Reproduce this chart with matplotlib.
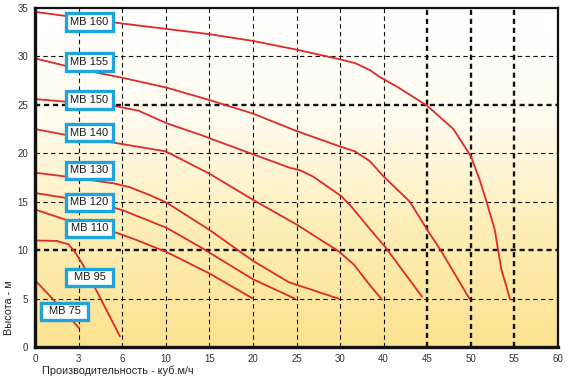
import numpy as np
import matplotlib
matplotlib.use("Agg")
import matplotlib.pyplot as plt
from matplotlib.patches import Rectangle

plt.rcParams['font.family'] = ['Liberation Sans', 'DejaVu Sans']

# подписи оси X (шкала неравномерная: каждая клетка — следующее значение)
x_ticks = [0, 3, 6, 10, 15, 20, 25, 30, 40, 45, 50, 55, 60]
y_ticks = [0, 5, 10, 15, 20, 25, 30, 35]

# характеристики насосов: расход (куб.м/ч) и высота (м)
mb160_q = [0, 6, 15, 20, 25, 30, 33.5, 36.8, 39, 41.5, 45, 48, 50, 51, 51.8, 52.75, 53.15, 53.5, 54.1, 54.5]
mb160_h = [34.6, 33.4, 32.3, 31.6, 30.7, 29.7, 29.3, 28.6, 27.9, 26.9, 24.9, 22.5, 19.7, 17.3, 15.0, 12.1, 9.9, 8.0, 6.2, 4.9]
mb155_q = [0, 3, 6, 10, 15, 20, 25, 30, 33.4, 36.8, 40, 43, 45, 46.6, 49.9]
mb155_h = [29.8, 28.7, 27.8, 26.8, 25.5, 24.1, 22.3, 20.7, 20.2, 19.2, 17.6, 15.0, 12.1, 9.9, 4.9]
mb150_q = [0, 5.4, 7.5, 10.1, 14, 20, 24.25, 25.4, 26.9, 30.2, 32.4, 36.8, 40.2, 44.4]
mb150_h = [25.6, 24.9, 24.4, 23.1, 21.9, 19.9, 18.5, 18.25, 17.6, 15.6, 14.6, 12.2, 10.3, 5.2]
mb140_q = [0, 2.1, 5.4, 10, 15, 20, 25.1, 29.8, 33.2, 36.8, 39.6]
mb140_h = [22.5, 21.9, 21.1, 20.2, 17.9, 15.2, 12.6, 9.9, 8.5, 6.4, 4.9]
mb130_q = [0, 2.1, 5.4, 6.7, 8.5, 10.1, 15, 20, 24.1, 29.8]
mb130_h = [18.0, 17.6, 16.9, 16.5, 15.7, 14.9, 12.1, 8.9, 6.7, 5.0]
mb120_q = [0, 2.1, 5.4, 6.1, 10.1, 14, 20, 24.8]
mb120_h = [15.9, 15.4, 14.4, 14.1, 12.3, 10.3, 7.0, 5.0]
mb110_q = [0, 2.2, 5.4, 7.2, 10.1, 15, 20]
mb110_h = [14.2, 13.1, 11.9, 11.1, 9.8, 7.6, 5.0]
mb95_q = [0, 1.5, 2.3, 2.7, 3.3, 4.1, 5.85]
mb95_h = [11.0, 10.95, 10.6, 9.9, 8.5, 6.2, 1.1]
mb75_q = [0, 1.26, 3.0]
mb75_h = [6.9, 4.9, 2.0]

curves = [(mb160_q, mb160_h), (mb155_q, mb155_h), (mb150_q, mb150_h),
          (mb140_q, mb140_h), (mb130_q, mb130_h), (mb120_q, mb120_h),
          (mb110_q, mb110_h), (mb95_q, mb95_h), (mb75_q, mb75_h)]
names = ["MB 160", "MB 155", "MB 150", "MB 140", "MB 130", "MB 120", "MB 110", "MB 95", "MB 75"]

# положение табличек (пиксели исходной картинки: левый край, центр по высоте)
label_px = [(66, 22), (66, 62), (66, 100), (66, 133), (66, 170), (66, 202), (66, 228), (66, 277), (41, 311)]

W, H = 569, 381
fig = plt.figure(figsize=(W / 100, H / 100), dpi=100)
ax_l, ax_r, ax_t, ax_b = 35, 558, 8, 347
ax = fig.add_axes([ax_l / W, 1 - ax_b / H, (ax_r - ax_l) / W, (ax_b - ax_t) / H])

idx = np.arange(len(x_ticks))
fwd = lambda x: np.interp(x, x_ticks, idx)
inv = lambda u: np.interp(u, idx, x_ticks)
ax.set_xscale('function', functions=(fwd, inv))
ax.set_xlim(0, 60)
ax.set_ylim(0, 35)

# фон — градиент от белого к жёлтому
grad = np.linspace(0, 1, 256)[:, None]
cmap = matplotlib.colors.LinearSegmentedColormap.from_list(
    "bg", ["#fce390", "#fdedb4", "#fffbee", "#ffffff"])
ax.imshow(grad, aspect='auto', cmap=cmap, origin='lower',
          extent=[0, 1, 0, 1], transform=ax.transAxes, zorder=0)

# сетка
for v in x_ticks[1:-1]:
    heavy = v in (45, 50, 55)
    ax.axvline(v, color='#111111', lw=1.7 if heavy else 0.8,
               ls=(0, (2.2, 1.6)) if heavy else (0, (4, 3)), zorder=1)
for v in y_ticks[1:-1]:
    heavy = v in (10, 25)
    ax.axhline(v, color='#111111', lw=1.7 if heavy else 0.8,
               ls=(0, (2.2, 1.6)) if heavy else (0, (4, 3)), zorder=1)

for q, h in curves:
    ax.plot(q, h, color='#dd2a2a', lw=1.3, zorder=2, solid_capstyle='round',
            solid_joinstyle='round')

# таблички
bw, bh = 47 / (ax_r - ax_l), 17 / (ax_b - ax_t)
for name, (px, py) in zip(names, label_px):
    x0 = (px - ax_l) / (ax_r - ax_l)
    yc = (ax_b - py) / (ax_b - ax_t)
    ax.add_patch(Rectangle((x0, yc - bh / 2), bw, bh, transform=ax.transAxes,
                           facecolor='white', edgecolor='#1ea3dc', lw=2.4, zorder=4))
    ax.text(x0 + bw / 2, yc, name, transform=ax.transAxes, ha='center', va='center',
            fontsize=8, color='#1a1a1a', zorder=5)

ax.set_xticks(x_ticks)
ax.set_xticklabels([str(v) for v in x_ticks])
ax.set_yticks(y_ticks)
ax.xaxis.set_minor_locator(matplotlib.ticker.NullLocator())
ax.tick_params(length=0, labelsize=7, colors='#333333', pad=5)

for s in ['left', 'bottom']:
    ax.spines[s].set_linewidth(2.4)
for s in ['top', 'right']:
    ax.spines[s].set_linewidth(1.6)
for s in ax.spines.values():
    s.set_color('#111111')
    s.set_zorder(6)

fig.text(42 / W, 1 - 371 / H, "Производительность - куб.м/ч", ha='left', va='center',
         fontsize=7.8, color='#222222')
fig.text(9 / W, 1 - 308 / H, "Высота - м", rotation=90, ha='center', va='center',
         fontsize=7.8, color='#222222')

fig.savefig("out.png", dpi=100)
